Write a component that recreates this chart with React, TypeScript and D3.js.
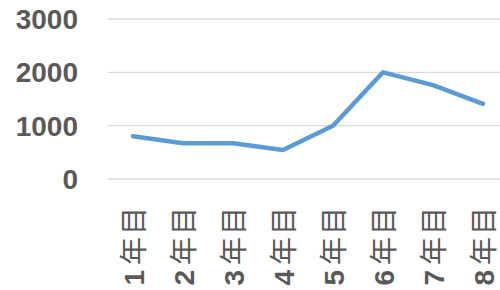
import React from "react";
import * as d3 from "d3";

const categories = ["1年目", "2年目", "3年目", "4年目", "5年目", "6年目", "7年目", "8年目"];
const values = [800, 670, 670, 545, 1000, 2000, 1760, 1410];
const yTicks = [0, 1000, 2000, 3000];

const W = 500;
const H = 290;

export default function App() {
  const x = d3.scaleBand<string>().domain(categories).range([108, 508]);
  const y = d3.scaleLinear().domain([0, 3000]).range([179, 19]);
  const line = d3
    .line<number>()
    .x((_, i) => (x(categories[i]) as number) + x.bandwidth() / 2)
    .y((d) => y(d));
  const font = "'Liberation Sans', 'Noto Sans CJK JP', sans-serif";
  return (
    <svg
      width={W}
      height={H}
      style={{ position: "absolute", left: 0, top: 0, background: "#fff" }}
      fontFamily={font}
    >
      {yTicks.map((t) => (
        <g key={t}>
          <line x1={108} x2={W} y1={y(t)} y2={y(t)} stroke="#d9d9d9" strokeWidth={1.3} />
          <text
            x={78}
            y={y(t)}
            dy="0.36em"
            textAnchor="end"
            fontSize={28}
            fontWeight="bold"
            fill="#595959"
          >
            {t}
          </text>
        </g>
      ))}
      <path
        d={line(values) || ""}
        fill="none"
        stroke="#5b9bd5"
        strokeWidth={4.5}
        strokeLinecap="round"
        strokeLinejoin="round"
      />
      {categories.map((c) => {
        const cx = (x(c) as number) + x.bandwidth() / 2;
        const num = c.slice(0, 1);
        const rest = c.slice(1);
        return (
          <text
            key={c}
            transform={`translate(${cx},205) rotate(-90)`}
            dy="0.4em"
            textAnchor="end"
            fontSize={28}
            fill="#595959"
            fontFamily={font}
            letterSpacing={2}
          >
            <tspan fontWeight="bold">{num}</tspan>
            <tspan dx={3} fontWeight="normal">{rest}</tspan>
          </text>
        );
      })}
    </svg>
  );
}
